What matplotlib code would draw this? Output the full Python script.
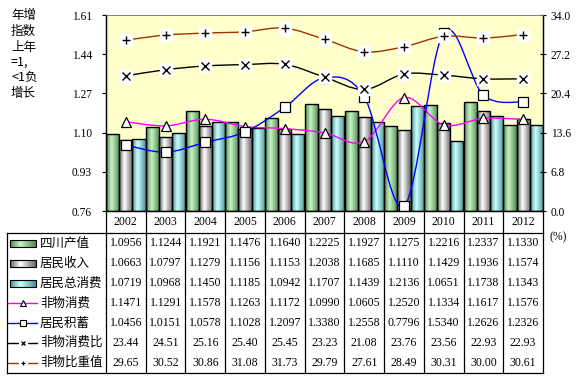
import numpy as np
import matplotlib
matplotlib.use("Agg")
import matplotlib.pyplot as plt
from matplotlib.path import Path
from matplotlib.patches import PathPatch, Rectangle
from matplotlib.colors import LinearSegmentedColormap

plt.rcParams['font.family'] = ['Liberation Serif', 'Noto Sans CJK SC']

# ---- data ----
years = ['2002', '2003', '2004', '2005', '2006', '2007', '2008', '2009', '2010', '2011', '2012']
sc_output = [1.0956, 1.1244, 1.1921, 1.1476, 1.1640, 1.2225, 1.1927, 1.1275, 1.2216, 1.2337, 1.1330]
income = [1.0663, 1.0797, 1.1279, 1.1156, 1.1153, 1.2038, 1.1685, 1.1110, 1.1429, 1.1936, 1.1574]
total_consume = [1.0719, 1.0968, 1.1450, 1.1185, 1.0942, 1.1707, 1.1439, 1.2136, 1.0651, 1.1738, 1.1343]
nonmat_consume = [1.1471, 1.1291, 1.1578, 1.1263, 1.1172, 1.0990, 1.0605, 1.2520, 1.1334, 1.1617, 1.1576]
savings = [1.0456, 1.0151, 1.0578, 1.1028, 1.2097, 1.3380, 1.2558, 0.7796, 1.5340, 1.2626, 1.2326]
nonmat_ratio = [23.44, 24.51, 25.16, 25.40, 25.45, 23.23, 21.08, 23.76, 23.56, 22.93, 22.93]
nonmat_share = [29.65, 30.52, 30.86, 31.08, 31.73, 29.79, 27.61, 28.49, 30.31, 30.00, 30.61]

left_ticks = [0.76, 0.93, 1.10, 1.27, 1.44, 1.61]
right_ticks = [0.0, 6.8, 13.6, 20.4, 27.2, 34.0]

W, H = 582, 379
fig = plt.figure(figsize=(W / 100, H / 100), dpi=100)

# plot area in pixels
PX0, PX1, PY0, PY1 = 106, 543, 15, 211
ax = fig.add_axes([PX0 / W, 1 - PY1 / H, (PX1 - PX0) / W, (PY1 - PY0) / H])
ax.set_facecolor('#FFFFCC')
ax2 = ax.twinx()

n = len(years)
x = np.arange(n)

# gradient colormaps for the bars
grad_specs = [
    ('#4E8A4E', '#C8F2C8'),
    ('#666666', '#FFFFFF'),
    ('#4A9494', '#CCFFFF'),
]
cmaps = [LinearSegmentedColormap.from_list('g%d' % i, [(0, e), (0.4, c), (1, e)])
         for i, (e, c) in enumerate(grad_specs)]
grad = np.linspace(0, 1, 64).reshape(1, -1)

bar_w = 1 / 3.03
base = left_ticks[0]
for k, vals in enumerate([sc_output, income, total_consume]):
    off = (k - 1) * bar_w
    bars = ax.bar(x + off, np.array(vals) - base, bottom=base, width=bar_w,
                  facecolor='none', edgecolor='black', linewidth=1.0, zorder=3)
    for b in bars:
        x0, y0 = b.get_x(), b.get_y()
        im = ax.imshow(grad, extent=[x0, x0 + b.get_width(), y0, y0 + b.get_height()],
                       aspect='auto', cmap=cmaps[k], zorder=2, interpolation='bilinear')
        im.set_clip_path(b)


def smooth_path(xs, ys):
    pts = np.column_stack([xs, ys]).astype(float)
    m = len(pts)
    verts = [pts[0]]
    codes = [Path.MOVETO]
    for i in range(m - 1):
        p_prev = pts[i - 1] if i > 0 else pts[i]
        p_next2 = pts[i + 2] if i + 2 < m else pts[i + 1]
        c1 = pts[i] + (pts[i + 1] - p_prev) / 6
        c2 = pts[i + 1] - (p_next2 - pts[i]) / 6
        verts += [c1, c2, pts[i + 1]]
        codes += [Path.CURVE4] * 3
    return Path(verts, codes)


def draw_series(a, vals, color, marker):
    a.add_patch(PathPatch(smooth_path(x, vals), facecolor='none', edgecolor=color,
                          linewidth=1.0, zorder=5))
    if marker in ('^', 's'):
        a.plot(x, vals, linestyle='none', marker=marker, markersize=6.5,
               markerfacecolor='white', markeredgecolor='black', markeredgewidth=0.9, zorder=6)
    else:
        a.plot(x, vals, linestyle='none', marker='s', markersize=8,
               markerfacecolor='white', markeredgecolor='white', zorder=6)
        a.plot(x, vals, linestyle='none', marker=marker, markersize=6,
               markeredgecolor='black', markeredgewidth=1.0, zorder=7)


draw_series(ax, nonmat_consume, '#FF00FF', '^')
draw_series(ax, savings, '#0000FF', 's')
draw_series(ax2, nonmat_ratio, 'black', 'x')
draw_series(ax2, nonmat_share, '#993300', '+')

ax.set_xlim(-0.5, n - 0.5)
ax.set_ylim(left_ticks[0], left_ticks[-1])
ax2.set_ylim(right_ticks[0], right_ticks[-1])
ax.set_yticks(left_ticks)
ax.set_yticklabels(['%.2f' % v for v in left_ticks])
ax2.set_yticks(right_ticks)
ax2.set_yticklabels(['%.1f' % v for v in right_ticks])
ax.set_xticks([])
ax.tick_params(axis='y', direction='out', length=3, width=0.8, pad=7, labelsize=8.3)
ax2.tick_params(axis='y', direction='inout', length=5, width=0.8, pad=3, labelsize=8.3)
for a in (ax, ax2):
    for s in a.spines.values():
        s.set_linewidth(0.9)
    a.spines['top'].set_color('#808080')
    a.spines['top'].set_linewidth(0.6)

# ---- table + left note, drawn in pixel coordinates ----
tab = fig.add_axes([0, 0, 1, 1], facecolor='none')
tab.set_xlim(0, W)
tab.set_ylim(H, 0)
tab.axis('off')

col_w = (PX1 - PX0) / n
header_bot = 233.3
row_h = 19.9
n_rows = 7
table_bot = header_bot + n_rows * row_h
LBL_X0 = 7
lc = dict(color='black', linewidth=0.9)

tab.plot([LBL_X0, PX1], [header_bot, header_bot], **lc)
tab.plot([LBL_X0, PX1], [table_bot, table_bot], **lc)
tab.plot([LBL_X0, LBL_X0], [header_bot, table_bot], **lc)
for i in range(n + 1):
    tab.plot([PX0 + i * col_w] * 2, [PY1, table_bot], **lc)

for i, yr in enumerate(years):
    tab.text(PX0 + (i + 0.5) * col_w, (PY1 + header_bot) / 2, yr,
             ha='center', va='center', fontsize=8.5)

row_names = ['四川产值', '居民收入', '居民总消费', '非物消费', '居民积蓄', '非物消费比', '非物比重值']
row_vals = [sc_output, income, total_consume, nonmat_consume, savings, nonmat_ratio, nonmat_share]
row_fmt = ['%.4f'] * 5 + ['%.2f'] * 2
line_keys = [('#FF00FF', '^'), ('#0000FF', 's'), ('black', 'x'), ('#993300', '+')]

for r in range(n_rows):
    cy = header_bot + (r + 0.5) * row_h
    tab.text(40, cy, row_names[r], ha='left', va='center', fontsize=9,
             family=['Noto Sans CJK SC'])
    for i, v in enumerate(row_vals[r]):
        tab.text(PX0 + (i + 0.5) * col_w, cy, row_fmt[r] % v,
                 ha='center', va='center', fontsize=8.5)
    if r < 3:
        sw = Rectangle((10, cy - 3.5), 26, 7, facecolor='none', edgecolor='black', linewidth=0.8)
        tab.add_patch(sw)
        im = tab.imshow(grad, extent=[10, 36, cy + 3.5, cy - 3.5], aspect='auto',
                        cmap=cmaps[r], interpolation='bilinear')
        im.set_clip_path(sw)
    else:
        col, mk = line_keys[r - 3]
        tab.plot([8, 37], [cy, cy], color=col, linewidth=1.0)
        if mk in ('^', 's'):
            tab.plot([22.5], [cy], marker=mk, markersize=4.5, markerfacecolor='white',
                     markeredgecolor='black', markeredgewidth=0.8)
        else:
            tab.plot([22.5], [cy], marker='s', markersize=5.5, markerfacecolor='white',
                     markeredgecolor='white')
            tab.plot([22.5], [cy], marker=mk, markersize=3.5, markeredgecolor='black',
                     markeredgewidth=0.9)

tab.set_xlim(0, W)
tab.set_ylim(H, 0)

tab.text(550, 237, '(%)', ha='left', va='center', fontsize=8.5)

note = ['年增', '指数', '上年', '=1,', '<1负', '增长']
for i, s in enumerate(note):
    tab.text(11, 16 + i * 15.5, s, ha='left', va='center', fontsize=9,
             family=['Noto Sans CJK SC', 'Liberation Serif'])

fig.savefig('out.png', dpi=100)
